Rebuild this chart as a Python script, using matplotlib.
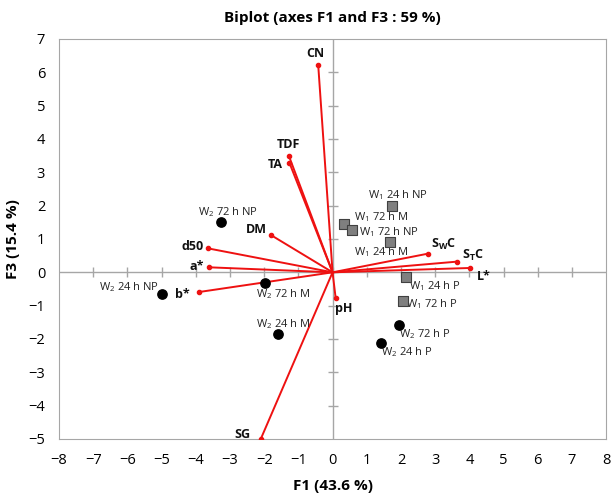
import numpy as np
import matplotlib.pyplot as plt

plt.rcParams['font.family'] = ['Open Sans', 'DejaVu Sans']
plt.rcParams['mathtext.fontset'] = 'custom'
plt.rcParams['mathtext.rm'] = 'Open Sans'
plt.rcParams['mathtext.it'] = 'Open Sans'
plt.rcParams['mathtext.bf'] = 'Open Sans:bold'

# variables (loadings)
var_names = ['CN', 'TDF', 'TA', 'DM', 'd50', 'a*', 'b*', 'pH',
             r'S$_\mathbf{W}$C', r'S$_\mathbf{T}$C', 'L*', 'SG']
var_x = [-0.42, -1.28, -1.26, -1.79, -3.65, -3.6, -3.9, 0.09, 2.79, 3.63, 4.01, -2.1]
var_y = [6.22, 3.5, 3.28, 1.11, 0.72, 0.15, -0.59, -0.77, 0.56, 0.32, 0.13, -5.0]
# label offsets in pixels
var_off = [(-3, 11), (0, 11), (-14, -2), (-15, 6), (-15, 2), (-13, 1), (-17, -3), (8, -11),
           (16, 9), (16, 6), (14, -9), (-18, 4)]

# observations
w1_names = ['W$_1$ 24 h NP', 'W$_1$ 72 h M', 'W$_1$ 72 h NP', 'W$_1$ 24 h M',
            'W$_1$ 24 h P', 'W$_1$ 72 h P']
w1_x = [1.74, 0.33, 0.56, 1.67, 2.16, 2.06]
w1_y = [2.0, 1.45, 1.27, 0.92, -0.15, -0.87]
w1_off = [(6, 11), (37, 7), (37, -2), (-8, -10), (28, -9), (29, -3)]

w2_names = ['W$_2$ 72 h NP', 'W$_2$ 24 h NP', 'W$_2$ 72 h M', 'W$_2$ 24 h M',
            'W$_2$ 72 h P', 'W$_2$ 24 h P']
w2_x = [-3.26, -5.0, -1.99, -1.59, 1.93, 1.42]
w2_y = [1.5, -0.65, -0.33, -1.85, -1.59, -2.12]
w2_off = [(7, 10), (-33, 7), (19, -11), (5, 10), (26, -9), (26, -9)]

fig = plt.figure(figsize=(6.11, 4.98), dpi=100)
ax = fig.add_axes([0.0966, 0.1185, 0.8954, 0.8032])
ax.set_xlim(-8, 8)
ax.set_ylim(-5, 7)

gray = '#a6a6a6'
ax.axhline(0, color=gray, lw=1, zorder=1)
ax.axvline(0, color=gray, lw=1, zorder=1)
ax.plot(np.arange(-7, 8), np.zeros(15), '|', color=gray, ms=7, zorder=1)
ax.plot(np.zeros(11), np.arange(-4, 7), '_', color=gray, ms=7, zorder=1)

for n, x, y, off in zip(var_names, var_x, var_y, var_off):
    ax.plot([0, x], [0, y], color='#ee1111', lw=1.4, zorder=2)
    ax.plot(x, y, 'o', color='#ee1111', ms=3, zorder=3)
    ax.annotate(n, (x, y), xytext=off, textcoords='offset pixels',
                ha='center', va='center', fontsize=9, fontweight='bold', color='#111111')

ax.scatter(w1_x, w1_y, marker='s', s=50, color='#7f7f7f', edgecolors='#404040', lw=0.8, zorder=4)
for n, x, y, off in zip(w1_names, w1_x, w1_y, w1_off):
    ax.annotate(n, (x, y), xytext=off, textcoords='offset pixels',
                ha='center', va='center', fontsize=8, color='#222222')

ax.scatter(w2_x, w2_y, marker='o', s=45, color='black', zorder=4)
for n, x, y, off in zip(w2_names, w2_x, w2_y, w2_off):
    ax.annotate(n, (x, y), xytext=off, textcoords='offset pixels',
                ha='center', va='center', fontsize=8, color='#222222')

ax.set_xticks(np.arange(-8, 9))
ax.set_yticks(np.arange(-5, 8))
ax.tick_params(length=0, labelsize=10.5, pad=10)
for s in ax.spines.values():
    s.set_color(gray)
ax.set_xlabel('F1 (43.6 %)', fontsize=11, fontweight='bold', labelpad=8)
ax.set_ylabel('F3 (15.4 %)', fontsize=11, fontweight='bold', labelpad=6)
ax.set_title('Biplot (axes F1 and F3 : 59 %)', fontsize=11, fontweight='bold', pad=12)

fig.savefig('out.png', dpi=100)
